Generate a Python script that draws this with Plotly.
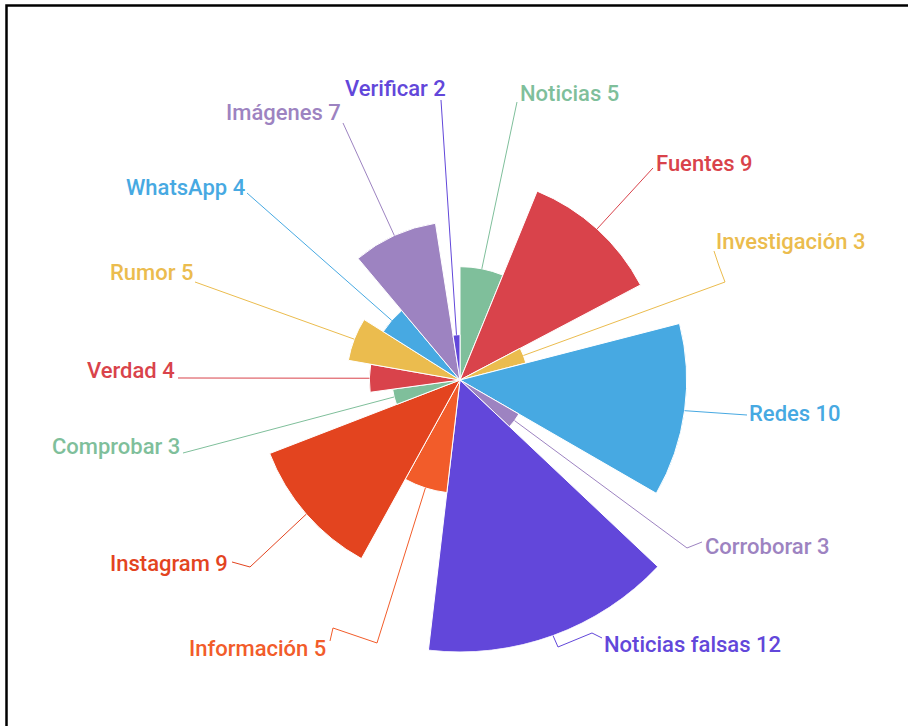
import math
import plotly.graph_objects as go

# Word-frequency rose: angle and radius both proportional to the count
labels = ["Noticias", "Fuentes", "Investigación", "Redes", "Corroborar",
          "Noticias falsas", "Información", "Instagram", "Comprobar",
          "Verdad", "Rumor", "WhatsApp", "Imágenes", "Verificar"]
values = [5, 9, 3, 10, 3, 12, 5, 9, 3, 4, 5, 4, 7, 2]
colors = ["#7fbf9b", "#d9434b", "#ebbc4e", "#47a9e2", "#9d83c1",
          "#6247da", "#f25c2a", "#e3441f", "#7fbf9b", "#d9434b",
          "#ebbc4e", "#47a9e2", "#9d83c1", "#6247da"]

W, H = 908, 726
CX, CY, R = 460, 380, 272      # rose centre and outer radius (px)
RMAX = max(values)

# Leader-line elbows and text anchor for each label (px), plus text side
label_layout = {
    "Noticias":        ([(517, 102)], (518, 94), "left"),
    "Fuentes":         ([(653, 168)], (654, 163), "left"),
    "Investigación":   ([(725, 282), (719, 266), (714, 251)], (714, 242), "left"),
    "Redes":           ([(747, 415)], (747, 413), "left"),
    "Corroborar":      ([(687, 548), (702, 542)], (703, 546), "left"),
    "Noticias falsas": ([(558, 647), (592, 633), (602, 638)], (602, 644), "left"),
    "Información":     ([(377, 643), (333, 628), (330, 641)], (328, 648), "right"),
    "Instagram":       ([(250, 567), (232, 562)], (230, 563), "right"),
    "Comprobar":       ([(183, 453)], (182, 446), "right"),
    "Verdad":          ([(178, 378)], (177, 370), "right"),
    "Rumor":           ([(195, 282)], (195, 272), "right"),
    "WhatsApp":        ([(247, 193)], (247, 188), "right"),
    "Imágenes":        ([(343, 123)], (343, 113), "right"),
    "Verificar":       ([(441, 100)], (448, 88), "right"),
}

total = sum(values)
widths = [v / total * 360 for v in values]
mids = []
acc = 0.0
for w in widths:
    mids.append(acc + w / 2)
    acc += w


def px(x, y):
    return x / W, 1 - y / H


fig = go.Figure()
fig.add_trace(go.Barpolar(
    r=values, theta=mids, width=widths,
    marker=dict(color=colors, line=dict(color="white", width=1)),
    hoverinfo="skip", showlegend=False,
))

shapes = []
annotations = []
for name, v, t, c in zip(labels, values, mids, colors):
    rr = R * v / RMAX
    a = math.radians(t)
    sx, sy = CX + rr * math.sin(a), CY - rr * math.cos(a)
    elbows, (tx, ty), side = label_layout[name]
    pts = [(sx, sy)] + elbows
    path = "M " + " L ".join(f"{px(x, y)[0]:.5f},{px(x, y)[1]:.5f}" for x, y in pts)
    shapes.append(dict(type="path", xref="paper", yref="paper", path=path,
                       line=dict(color=c, width=1)))
    ax, ay = px(tx, ty)
    annotations.append(dict(x=ax, y=ay, xref="paper", yref="paper",
                            text=f"{name} {v}", showarrow=False,
                            xanchor=side, yanchor="middle",
                            font=dict(family="Roboto", size=22, color=c, weight=500)))

# Outer frame (left and top edges visible)
shapes.append(dict(type="rect", xref="paper", yref="paper",
                   x0=6.5 / W, x1=1.02, y0=-0.02, y1=1 - 5.5 / H,
                   line=dict(color="black", width=2.5)))

fig.update_layout(
    width=W, height=H,
    margin=dict(l=0, r=0, t=0, b=0),
    paper_bgcolor="white",
    plot_bgcolor="white",
    polar=dict(
        domain=dict(x=[(CX - R) / W, (CX + R) / W],
                    y=[1 - (CY + R) / H, 1 - (CY - R) / H]),
        bgcolor="rgba(0,0,0,0)",
        bargap=0,
        angularaxis=dict(direction="clockwise", rotation=90, visible=False,
                         showgrid=False, showline=False, ticks=""),
        radialaxis=dict(range=[0, RMAX], visible=False, showgrid=False,
                        showline=False, ticks=""),
    ),
    shapes=shapes,
    annotations=annotations,
)

fig.write_html("out.html")
